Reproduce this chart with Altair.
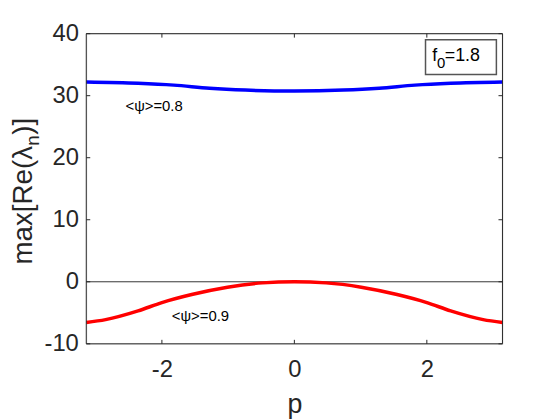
import altair as alt
import pandas as pd
import numpy as np

# data
p_blue = [-3.1416, -2.36, -1.82, -1.28, -0.74, 0.0, 0.74, 1.28, 1.82, 2.36, 3.1416]
v_blue = [32.2, 32.0, 31.7, 31.2, 30.9, 30.75, 30.9, 31.2, 31.7, 32.0, 32.2]
p_red = [-3.1416, -2.85, -2.36, -2.0, -1.55, -1.01, -0.48, 0.0, 0.48, 1.01, 1.55, 2.0, 2.36, 2.85, 3.1416]
v_red = [-6.55, -6.1, -4.7, -3.35, -2.05, -0.87, -0.18, 0.0, -0.18, -0.87, -2.05, -3.35, -4.7, -6.1, -6.55]

x_ticks = [-2, 0, 2]
y_ticks = [-10, 0, 10, 20, 30, 40]

labels_txt = ["<ψ>=0.8", "<ψ>=0.9"]
labels_p = [-2.55, -1.85]
labels_v = [28.3, -5.6]

legend_txt = ["f", "0", "=1.8"]

W, H = 420, 313
XD = [-np.pi, np.pi]
YD = [-10, 40]
FONT = "Liberation Sans"
INK = "#262626"

xs = alt.Scale(domain=XD, nice=False, zero=False)
ys = alt.Scale(domain=YD, nice=False, zero=False)

df_b = pd.DataFrame({"p": p_blue, "v": v_blue})
df_r = pd.DataFrame({"p": p_red, "v": v_red})

base_axes = alt.Chart(pd.DataFrame({"p": [0.0], "v": [0.0]})).mark_point(opacity=0).encode(
    x=alt.X("p:Q", scale=xs, title="p",
            axis=alt.Axis(values=x_ticks, ticks=False, domain=False, grid=False,
                          labelExpr="'' + datum.value",
                          labelFontSize=24, labelFont=FONT, labelColor=INK,
                          labelPadding=14, titleFontSize=27, titleFont=FONT,
                          titleFontWeight="normal", titleColor=INK, titlePadding=10)),
    y=alt.Y("v:Q", scale=ys, title="",
            axis=alt.Axis(values=y_ticks, ticks=False, domain=False, grid=False,
                          labelExpr="'' + datum.value",
                          labelFontSize=24, labelFont=FONT, labelColor=INK,
                          labelPadding=8)),
)

# y-axis title built as rotated text pieces so the subscript is a real subscript
ytitle = alt.Chart(pd.DataFrame({"t": ["max[Re(λ", "n", ")]"],
                                 "x": [-55, -48, -55], "y": [233, 113, 102],
                                 "s": [28, 19, 28]})).mark_text(
    angle=270, align="left", baseline="alphabetic", font=FONT, color=INK).encode(
    x=alt.X("x:Q", scale=None), y=alt.Y("y:Q", scale=None), text="t:N",
    size=alt.Size("s:Q", scale=None, legend=None))

zero = alt.Chart(pd.DataFrame({"v": [0.0]})).mark_rule(color="black", strokeWidth=0.8).encode(
    y=alt.Y("v:Q", scale=ys))

blue = alt.Chart(df_b).mark_line(color="#0000ff", strokeWidth=3.5, interpolate="monotone").encode(
    x=alt.X("p:Q", scale=xs), y=alt.Y("v:Q", scale=ys))
red = alt.Chart(df_r).mark_line(color="#ff0000", strokeWidth=3.5, interpolate="monotone").encode(
    x=alt.X("p:Q", scale=xs), y=alt.Y("v:Q", scale=ys))

dfx = pd.DataFrame({"p": x_ticks})
dfy = pd.DataFrame({"v": y_ticks})
tk = dict(color=INK, strokeWidth=1)
xt_b = alt.Chart(dfx).mark_rule(**tk).encode(x=alt.X("p:Q", scale=xs), y=alt.value(H), y2=alt.value(H - 4))
xt_t = alt.Chart(dfx).mark_rule(**tk).encode(x=alt.X("p:Q", scale=xs), y=alt.value(0), y2=alt.value(4))
yt_l = alt.Chart(dfy).mark_rule(**tk).encode(y=alt.Y("v:Q", scale=ys), x=alt.value(0), x2=alt.value(4))
yt_r = alt.Chart(dfy).mark_rule(**tk).encode(y=alt.Y("v:Q", scale=ys), x=alt.value(W), x2=alt.value(W - 4))

frame = alt.Chart(pd.DataFrame({"a": [1]})).mark_rect(fill=None, stroke=INK, strokeWidth=1).encode(
    x=alt.value(0), x2=alt.value(W), y=alt.value(0), y2=alt.value(H))

df_lab = pd.DataFrame({"t": labels_txt, "p": labels_p, "v": labels_v})
labs = alt.Chart(df_lab).mark_text(align="left", baseline="middle", fontSize=15, font=FONT,
                                   color="black").encode(
    x=alt.X("p:Q", scale=xs), y=alt.Y("v:Q", scale=ys), text="t:N")

box = alt.Chart(pd.DataFrame({"p": [1.98], "p2": [3.05], "v": [39.0], "v2": [33.4]})).mark_rect(
    fill="white", stroke="#555555", strokeWidth=1.5).encode(
    x=alt.X("p:Q", scale=xs), x2="p2:Q", y=alt.Y("v:Q", scale=ys), y2="v2:Q")

ftxt = alt.Chart(pd.DataFrame({"t": legend_txt, "p": [2.08, 2.155, 2.27], "v": [36.4, 35.2, 36.4],
                               "s": [18, 15, 18]})).mark_text(
    align="left", baseline="middle", font=FONT, color="black").encode(
    x=alt.X("p:Q", scale=xs), y=alt.Y("v:Q", scale=ys), text="t:N",
    size=alt.Size("s:Q", scale=None, legend=None))

chart = alt.layer(base_axes, ytitle, zero, blue, red, xt_b, xt_t, yt_l, yt_r, frame, labs, box, ftxt).properties(
    width=W, height=H,
    autosize=alt.AutoSizeParams(type="none"),
    padding={"left": 79, "top": 24, "right": 50, "bottom": 75},
).configure_view(stroke=None).configure(background="white")

chart.save("out.html", embed_options={"renderer": "svg", "actions": False})
